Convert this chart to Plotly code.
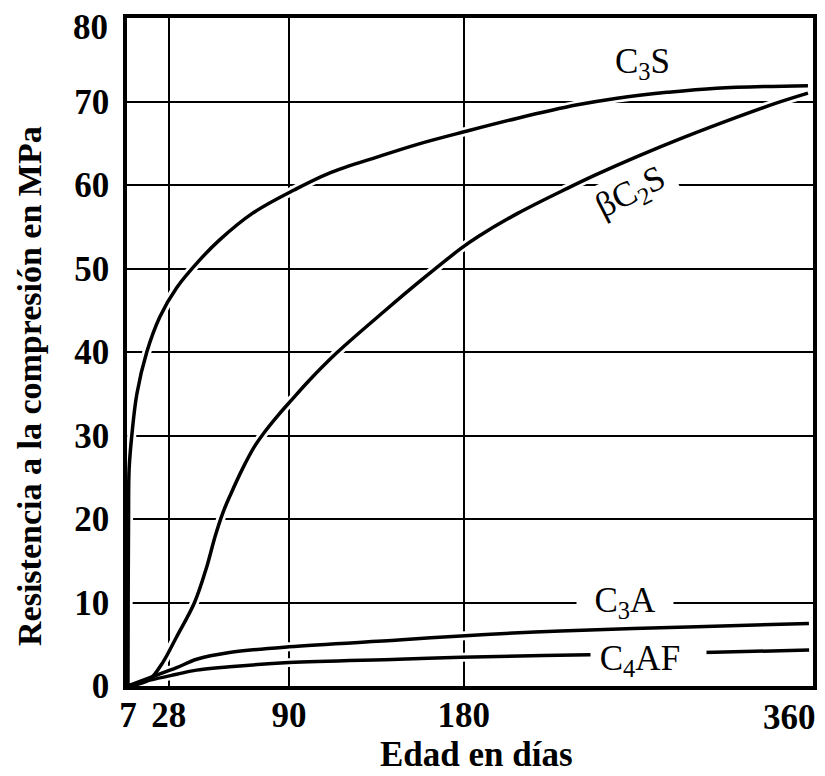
import plotly.graph_objects as go

# ---- data ----
c3s_days = [7.0, 7.1, 7.3, 7.6, 9.1, 11.6, 16.7, 23.4, 32.1, 43.9, 54.1, 71.1, 92.6, 110.5, 136.1, 156.6,
            180.7, 207.8, 238.6, 259.1, 284.7, 310.3, 357.4]
c3s_mpa = [0, 10, 20, 26, 30.3, 35, 40, 44.2, 47.7, 51.0, 53.4, 56.6, 59.4, 61.4, 63.4, 64.9,
           66.4, 68.0, 69.6, 70.4, 71.1, 71.6, 71.9]

c2s_days = [7, 13.2, 18.3, 24.9, 32.1, 41.3, 47.5, 52, 56, 60, 66, 72, 78, 85, 91.5, 100, 114.6, 139.7, 158.1,
            178.6, 187.3, 207.8, 233.4, 248.8, 269.3, 293.4, 320.5, 341.0, 357.4]
c2s_mpa = [0, 0.3, 0.8, 2.8, 5.9, 10.0, 14.2, 18.0, 20.8, 23.0, 26.0, 28.6, 30.6, 32.6, 34.3, 36.5, 39.9, 45.0, 48.6,
           52.4, 53.8, 56.6, 59.6, 61.3, 63.4, 65.7, 68.1, 69.8, 71.0]

c3a_days = [7, 18.3, 32.1, 42.4, 59.3, 90, 146.4, 178.6, 229.9, 300.1, 357.9]
c3a_mpa = [0, 1.0, 2.2, 3.2, 4.0, 4.7, 5.5, 6.0, 6.6, 7.1, 7.5]

c4af_days = [7, 18.3, 32.1, 42.4, 59.3, 90, 146.4, 178.6, 245, 309, 358]
c4af_mpa = [0, 0.7, 1.4, 1.9, 2.3, 2.8, 3.2, 3.45, 3.75, 4.05, 4.3]

x_ticks = [7, 28, 90, 180]
x_last_tick = 360
y_ticks = [0, 10, 20, 30, 40, 50, 60, 70]
y_last_tick = 80

series = [
    ("C<sub>3</sub>S", c3s_days, c3s_mpa),
    ("βC<sub>2</sub>S", c2s_days, c2s_mpa),
    ("C<sub>3</sub>A", c3a_days, c3a_mpa),
    ("C<sub>4</sub>AF", c4af_days, c4af_mpa),
]

SERIF = "Liberation Serif"

fig = go.Figure()
# white halos (interrupt gridlines where curves cross, as in the print)
for name, xs, ys in series:
    fig.add_trace(go.Scatter(x=xs, y=ys, mode="lines", line=dict(color="white", width=9, shape="spline", smoothing=1),
                             hoverinfo="skip", showlegend=False))
for name, xs, ys in series:
    fig.add_trace(go.Scatter(x=xs, y=ys, mode="lines", name=name,
                             line=dict(color="black", width=3.5, shape="spline", smoothing=1),
                             showlegend=False))

label_font = dict(family=SERIF, size=35, color="black")
fig.add_annotation(x=272, y=74.5, xref="x", yref="y", text="C<sub>3</sub>S", showarrow=False,
                   font=label_font, xanchor="center", yanchor="middle")
fig.add_annotation(x=266, y=59.0, xref="x", yref="y", text="\u00a0βC<sub>2</sub>S\u00a0", showarrow=False,
                   font=label_font, xanchor="center", yanchor="middle", textangle=-27, bgcolor="white")
fig.add_annotation(x=263, y=10, xref="x", yref="y", text="\u00a0\u00a0C<sub>3</sub>A\u00a0\u00a0", showarrow=False,
                   font=label_font, xanchor="center", yanchor="middle", bgcolor="white", borderpad=0)
fig.add_annotation(x=275, y=3.1, xref="x", yref="y", text="\u00a0C<sub>4</sub>AF\u00a0\u00a0\u00a0", showarrow=False,
                   font=label_font, xanchor="center", yanchor="middle", bgcolor="white", borderpad=0)

tick_font = dict(family=SERIF, size=35, color="black", weight="bold")
# end tick labels placed so they stay inside the page, as in the reference
fig.add_annotation(x=x_last_tick, y=0, xref="x", yref="paper", text=str(x_last_tick), showarrow=False,
                   font=tick_font, xanchor="right", yanchor="top", yshift=-10, xshift=5)
fig.add_annotation(x=-0.0246, y=y_last_tick, xref="paper", yref="y", text=str(y_last_tick), showarrow=False,
                   font=tick_font, xanchor="right", yanchor="middle", yshift=-9)

fig.add_annotation(x=0.509, y=-0.103, xref="paper", yref="paper", text="Edad en días", showarrow=False,
                   font=dict(family=SERIF, size=35, color="black", weight="bold"), xanchor="center", yanchor="middle")
fig.add_annotation(x=-0.143, y=0.449, xref="paper", yref="paper", text="Resistencia a la compresión en MPa",
                   showarrow=False, textangle=-90,
                   font=dict(family=SERIF, size=34, color="black", weight="bold"), xanchor="center", yanchor="middle")

fig.update_xaxes(range=[6.5, 360], tickvals=x_ticks, ticktext=[str(v) for v in x_ticks],
                 showgrid=True, gridcolor="black", gridwidth=2, zeroline=False,
                 showline=True, linecolor="black", linewidth=3.5, mirror=True,
                 ticks="", tickfont=tick_font, ticklabelstandoff=-5)
fig.update_yaxes(range=[0, 80], tickvals=y_ticks, ticktext=[str(v) for v in y_ticks],
                 showgrid=True, gridcolor="black", gridwidth=2, zeroline=False,
                 showline=True, linecolor="black", linewidth=3.5, mirror=True,
                 ticks="", tickfont=tick_font, ticklabelstandoff=7)

fig.update_layout(width=825, height=776, margin=dict(l=127, r=8, t=18, b=90),
                  plot_bgcolor="white", paper_bgcolor="white", showlegend=False)

fig.write_html("out.html")
